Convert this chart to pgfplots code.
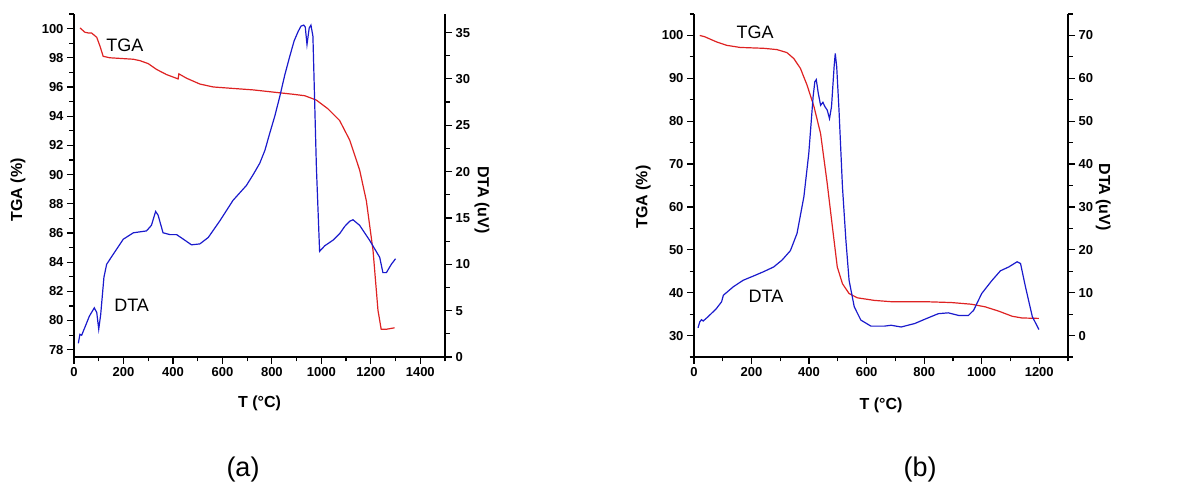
\documentclass[border=0pt]{standalone}
\usepackage{fontspec}
\setmainfont{Liberation Sans}
\usepackage{pgfplots}
\pgfplotsset{compat=1.18}
\definecolor{cred}{RGB}{222,34,34}
\definecolor{cblue}{RGB}{26,26,204}
\pgfplotsset{
  common/.style={
    scale only axis,
    /pgf/number format/assume math mode=true,
    /pgf/number format/1000 sep={},
    tick label style={font=\fontsize{13}{13}\selectfont\bfseries},
    label style={font=\fontsize{16}{16}\selectfont\bfseries},
    axis line style={-, line width=1.3pt},
    tick style={black, line width=1.2pt},
    major tick length=7pt,
    minor tick length=4.5pt,
    tick align=outside,
    clip=true,
  },
}
\begin{document}
\begin{tikzpicture}[x=1pt,y=1pt]
\useasboundingbox (0,0) rectangle (1189,489);
% ---------------- panel (a) ----------------
\begin{axis}[common,
  at={(74pt,132pt)}, anchor=south west,
  width=371pt, height=343pt,
  xmin=0, xmax=1500, ymin=77.5, ymax=101,
  axis x line*=bottom, axis y line*=left,
  xtick={0,200,...,1400}, ytick={78,80,...,100},
  minor xtick={100,300,...,1500}, minor ytick={79,81,...,101},
  xlabel={T (°C)}, ylabel={TGA (\%)},
  xlabel style={at={(axis description cs:0.5,-0.134)}, anchor=center},
  ylabel style={at={(axis description cs:-0.151,0.487)}, anchor=center},
]
\addplot[cred, line width=1.2pt] coordinates {
(24,100.05) (44,99.75) (58,99.7) (71,99.7) (92,99.4) (105,98.8) (118,98.1)
(145,98.0) (240,97.9) (267,97.8) (300,97.6) (334,97.2) (374,96.85) (421,96.55)
(424,96.9) (455,96.6) (509,96.2) (563,96.0) (643,95.9) (724,95.8) (805,95.65)
(886,95.5) (933,95.4) (980,95.1) (1027,94.5) (1074,93.7) (1115,92.35)
(1155,90.3) (1182,88.2) (1209,84.8) (1229,80.7) (1242,79.4) (1263,79.4) (1296,79.5)
};
\node[font=\fontsize{18}{18}\selectfont] at (axis cs:206,98.88) {TGA};
\node[font=\fontsize{18}{18}\selectfont] at (axis cs:233,81.04) {DTA};
\end{axis}
\begin{axis}[common,
  at={(74pt,132pt)}, anchor=south west,
  width=371pt, height=343pt,
  xmin=0, xmax=1500, ymin=0, ymax=37,
  axis x line=none, axis y line*=right,
  ytick={0,5,...,35}, minor ytick={2.5,7.5,...,37.5},
  ylabel={DTA (uV)},
  ylabel style={rotate=180, at={(axis description cs:1.0997,0.458)}, anchor=center},
]
\addplot[cblue, line width=1.2pt] coordinates {
(17.5,1.48) (24,2.45) (31,2.35) (44,3.2) (62,4.4) (82,5.3) (92,4.8) (100,3.0)
(108,4.6) (121,8.6) (132,10.0) (159,11.1) (199,12.7) (240,13.4) (293,13.6)
(313,14.2) (330,15.7) (340,15.3) (360,13.4) (388,13.2) (415,13.2) (448,12.6)
(475,12.1) (509,12.2) (543,12.9) (590,14.7) (643,16.9) (670,17.7) (697,18.5)
(725,19.7) (751,20.9) (772,22.3) (791,24.1) (812,26.0) (832,28.1) (852,30.4)
(872,32.4) (890,34.1) (906,35.1) (918,35.7) (929,35.8) (935,35.6) (942,33.7)
(951,35.5) (958,35.8) (966,34.6) (980,20.5) (993,11.4) (1014,12.0) (1047,12.6)
(1074,13.3) (1095,14.1) (1115,14.65) (1128,14.8) (1155,14.2) (1195,12.6) (1236,10.75)
(1249,9.1) (1263,9.1) (1283,10.0) (1300,10.6)
};
\end{axis}
% ---------------- panel (b) ----------------
\begin{axis}[common,
  at={(694pt,132pt)}, anchor=south west,
  width=374pt, height=343pt,
  xmin=0, xmax=1300, ymin=25, ymax=105,
  axis x line*=bottom, axis y line*=left,
  xtick={0,200,...,1200}, ytick={30,40,...,100},
  minor xtick={100,300,...,1300}, minor ytick={25,35,...,105},
  xlabel={T (°C)}, ylabel={TGA (\%)},
  xlabel style={at={(axis description cs:0.5,-0.14)}, anchor=center},
  ylabel style={at={(axis description cs:-0.136,0.466)}, anchor=center},
]
\addplot[cred, line width=1.2pt] coordinates {
(20,100) (37,99.7) (78,98.5) (113,97.7) (160,97.2) (242,97.0) (288,96.7)
(323,96.0) (347,94.6) (370,92.3) (393,88.4) (417,83.4) (440,77.1) (463,65.5)
(481,55.4) (498,46.0) (516,42.1) (539,39.8) (568,38.8) (627,38.2) (685,37.9)
(744,37.9) (802,37.9) (895,37.7) (965,37.3) (1012,36.7) (1059,35.7) (1106,34.5)
(1140,34.1) (1199,34.0)
};
\node[font=\fontsize{18}{18}\selectfont] at (axis cs:212.5,100.7) {TGA};
\node[font=\fontsize{18}{18}\selectfont] at (axis cs:250,39.2) {DTA};
\end{axis}
\begin{axis}[common,
  at={(694pt,132pt)}, anchor=south west,
  width=374pt, height=343pt,
  xmin=0, xmax=1300, ymin=-5, ymax=75,
  axis x line=none, axis y line*=right,
  ytick={0,10,...,70}, minor ytick={-5,5,...,75},
  ylabel={DTA (uV)},
  ylabel style={rotate=180, at={(axis description cs:1.094,0.466)}, anchor=center},
]
\addplot[cblue, line width=1.2pt] coordinates {
(14,1.8) (20,3.2) (26,3.7) (32,3.4) (49,4.4) (78,6.3) (96,7.9) (102,9.4)
(137,11.4) (171,12.9) (207,13.9) (242,14.9) (277,16.0) (306,17.6) (335,19.8)
(358,23.8) (382,32.4) (399,42.5) (414,55.7) (420,59.2) (425,59.7) (432,56.5)
(440,53.7) (448,54.4) (455,53.4) (463,52.6) (471,50.6) (478,53.4) (487,62.7)
(491,65.8) (496,62.7) (504,52.6) (516,34.7) (528,22.2) (539,12.9) (557,6.7)
(580,3.6) (615,2.2) (662,2.2) (685,2.4) (720,2.0) (767,2.8) (802,3.8) (849,5.1)
(884,5.3) (919,4.7) (954,4.7) (972,5.9) (1000,9.8) (1035,12.8) (1065,15.1)
(1094,16.0) (1123,17.2) (1135,16.8) (1152,11.4) (1176,4.4) (1199,1.4)
};
\end{axis}
% captions
\node[font=\fontsize{27}{27}\selectfont] at (243,19) {(a)};
\node[font=\fontsize{27}{27}\selectfont] at (920,19) {(b)};
\end{tikzpicture}
\end{document}
